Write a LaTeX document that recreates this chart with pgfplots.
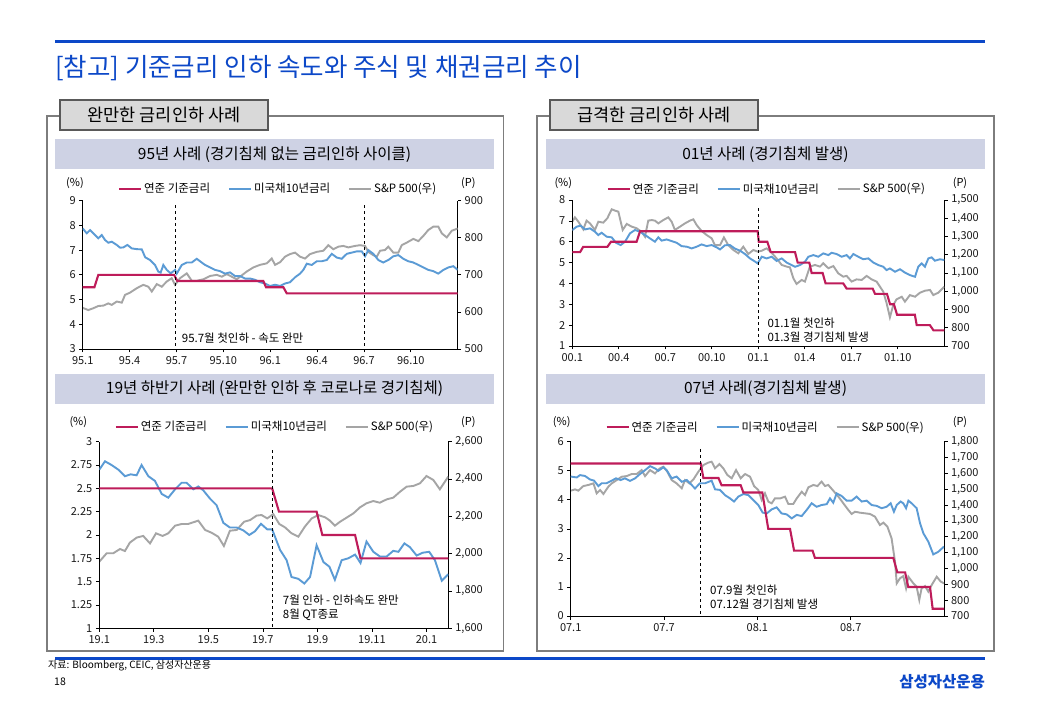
\documentclass[border=0pt]{standalone}
\usepackage{fontspec}
\setmainfont{Noto Sans CJK KR}
\usepackage{pgfplots}
\pgfplotsset{compat=1.18}
\definecolor{fed}{RGB}{190,28,90}
\definecolor{ust}{RGB}{91,155,213}
\definecolor{spx}{RGB}{165,165,165}
\definecolor{ttl}{RGB}{12,72,200}
\definecolor{barc}{RGB}{206,210,228}
\definecolor{frm}{RGB}{125,125,125}
\definecolor{tabc}{RGB}{217,217,217}
\newcommand{\fs}[1]{\fontsize{#1}{#1}\selectfont}
\pgfplotsset{
  base/.style={
    scale only axis, anchor=south west,
    axis line style={black, line width=0.7pt},
    tick style={black, line width=0.7pt},
    major tick length=3.5pt,
    tick align=outside,
    ticklabel style={font=\fs{11}, text=black!90},
    /pgf/number format/assume math mode=true,
    /pgf/number format/1000 sep={,},
  },
  lax/.style={base, axis y line*=left, axis x line*=bottom},
  rax/.style={base, axis y line*=right, axis x line=none},
  legax/.style={scale only axis, anchor=south west, hide axis, xmin=0, xmax=1, ymin=0, ymax=1,
    legend style={draw=none, fill=none, font=\fs{11.5}, legend columns=3,
      at={(#1)}, anchor=center, inner sep=0pt,
      /tikz/every even column/.append style={column sep=16pt}},
    legend cell align=left,
    legend image code/.code={\draw[##1] (0pt,0pt) -- (22pt,0pt);}},
  fedl/.style={fed, line width=2.1pt},
  ustl/.style={ust, line width=1.9pt},
  spxl/.style={spx, line width=1.9pt},
}
\newcommand{\legendset}{%
\addlegendimage{fedl}\addlegendentry{연준 기준금리}
\addlegendimage{ustl}\addlegendentry{미국채10년금리}
\addlegendimage{spxl}\addlegendentry{S\&P 500(우)}}
\begin{document}
\begin{tikzpicture}
\useasboundingbox (0pt,0pt) rectangle (1040pt,720pt);
\fill[white] (0pt,0pt) rectangle (1040pt,720pt);
% header
\draw[ttl, line width=3pt] (55pt,678pt) -- (985pt,678pt);
\node[anchor=west, text=ttl, font=\fs{25.5}, inner sep=0pt] at (55pt,652pt) {[참고] 기준금리 인하 속도와 주식 및 채권금리 추이};
% frames
\draw[frm, line width=1.8pt] (47pt,604pt) rectangle (503.5pt,69pt);
\draw[frm, line width=1.8pt] (537.3pt,604pt) rectangle (994pt,69pt);
\draw[fill=tabc, draw=black!65, line width=1.2pt] (60pt,620pt) rectangle (268pt,590pt);
\node[font=\fs{17.5}] at (164pt,605pt) {완만한 금리인하 사례};
\draw[fill=tabc, draw=black!65, line width=1.2pt] (550pt,620pt) rectangle (758pt,590pt);
\node[font=\fs{17.5}] at (654pt,605pt) {급격한 금리인하 사례};
% subtitle bars
\fill[barc] (55pt,580.7pt) rectangle (494pt,550.7pt);
\node[font=\fs{15.5}] at (274.5pt,565.7pt) {95년 사례 (경기침체 없는 금리인하 사이클)};
\fill[barc] (546pt,580.7pt) rectangle (985pt,550.7pt);
\node[font=\fs{15.5}] at (765.5pt,565.7pt) {01년 사례 (경기침체 발생)};
\fill[barc] (55pt,346pt) rectangle (494pt,316pt);
\node[font=\fs{15.5}] at (274.5pt,331pt) {19년 하반기 사례 (완만한 인하 후 코로나로 경기침체)};
\fill[barc] (546pt,346pt) rectangle (985pt,316pt);
\node[font=\fs{15.5}] at (765.5pt,331pt) {07년 사례(경기침체 발생)};

% ================= Chart 1 : 95 =================
\begin{axis}[rax, at={(82.7pt,371pt)}, width=375pt, height=148.3pt,
  xmin=0, xmax=24, ymin=500, ymax=900, ytick={500,600,700,800,900}]
\addplot[spxl] coordinates {(0,611)(0.36,605)(0.68,610)(1.00,616)(1.32,617)(1.64,623)(1.86,619)(2.18,628)(2.50,625)(2.71,646)(3.03,652)(3.46,664)(3.88,673)(4.20,668)(4.42,655)(4.74,675)(5.06,668)(5.38,682)(5.70,691)(5.91,673)(6.23,691)(6.66,704)(6.98,684)(7.30,684)(7.72,688)(8.15,697)(8.58,700)(8.90,695)(9.22,702)(9.54,695)(9.86,688)(10.07,695)(10.50,709)(10.92,720)(11.35,727)(11.78,731)(12.10,744)(12.31,727)(12.63,734)(12.95,749)(13.27,756)(13.59,760)(13.91,749)(14.23,744)(14.55,756)(14.98,762)(15.40,765)(15.72,780)(16.04,769)(16.36,776)(16.68,778)(17.00,774)(17.43,778)(17.75,780)(18.07,778)(18.28,762)(18.60,753)(18.82,749)(19.03,765)(19.35,767)(19.56,776)(19.88,760)(20.20,760)(20.42,780)(20.74,787)(21.16,797)(21.48,791)(21.80,805)(22.12,821)(22.44,830)(22.76,830)(22.98,812)(23.30,801)(23.62,819)(24.00,825)};
\end{axis}
\begin{axis}[lax, at={(82.7pt,371pt)}, width=375pt, height=148.3pt,
  xmin=0, xmax=24, ymin=3, ymax=9, ytick={3,4,...,9},
  xtick={0,3,...,21}, xticklabels={95.1,95.4,95.7,95.10,96.1,96.4,96.7,96.10}]
\addplot[ustl] coordinates {(0,7.88)(0.26,7.68)(0.47,7.81)(0.79,7.61)(1.00,7.48)(1.22,7.61)(1.43,7.41)(1.64,7.30)(1.86,7.34)(2.18,7.21)(2.39,7.10)(2.60,7.11)(2.86,7.21)(3.14,7.07)(3.46,7.04)(3.78,7.03)(4.00,6.71)(4.31,6.60)(4.63,6.40)(4.84,6.13)(4.99,6.09)(5.16,6.40)(5.38,6.20)(5.63,6.06)(5.91,6.20)(6.02,6.05)(6.34,6.40)(6.66,6.50)(6.98,6.50)(7.30,6.65)(7.51,6.55)(7.83,6.40)(8.15,6.30)(8.47,6.20)(8.79,6.15)(9.11,6.05)(9.43,6.10)(9.75,5.95)(10.07,5.95)(10.39,5.85)(10.71,5.85)(11.03,5.80)(11.35,5.70)(11.67,5.65)(11.99,5.55)(12.31,5.60)(12.63,5.55)(12.95,5.65)(13.27,5.70)(13.59,5.90)(13.91,6.05)(14.12,6.20)(14.34,6.45)(14.66,6.40)(14.98,6.55)(15.30,6.55)(15.62,6.60)(15.94,6.85)(16.26,6.70)(16.58,6.65)(16.90,6.85)(17.22,6.90)(17.54,6.95)(17.86,6.95)(18.07,6.75)(18.28,7.00)(18.60,6.85)(18.92,6.60)(19.24,6.50)(19.56,6.60)(19.88,6.75)(20.20,6.80)(20.52,6.65)(20.84,6.55)(21.16,6.50)(21.48,6.40)(21.80,6.30)(22.12,6.20)(22.44,6.15)(22.76,6.05)(23.08,6.20)(23.40,6.30)(23.72,6.35)(24.00,6.20)};
\addplot[fedl] coordinates {(0,5.5)(0.75,5.5)(1.0,6.0)(5.85,6.0)(6.05,5.75)(11.56,5.75)(11.73,5.5)(12.84,5.5)(13.06,5.25)(24,5.25)};
\draw[black, dashed, line width=0.7pt] (axis cs:5.93,8.82) -- (axis cs:5.93,3);
\draw[black, dashed, line width=0.7pt] (axis cs:18.05,8.82) -- (axis cs:18.05,3);
\end{axis}
\begin{axis}[legax={0.521,1.079}, at={(82.7pt,371pt)}, width=375pt, height=148.3pt]
\legendset
\end{axis}

% ================= Chart 2 : 01 =================
\begin{axis}[rax, at={(572.3pt,374pt)}, width=372pt, height=146pt,
  xmin=0, xmax=24, ymin=700, ymax=1500, ytick={700,800,...,1500}]
\addplot[spxl] coordinates {(0,1381)(0.17,1405)(0.39,1381)(0.71,1339)(0.92,1387)(1.14,1372)(1.46,1336)(1.68,1381)(2.00,1376)(2.26,1400)(2.54,1449)(2.75,1442)(2.97,1436)(3.25,1336)(3.51,1369)(3.83,1354)(4.15,1345)(4.47,1326)(4.69,1299)(4.90,1387)(5.12,1390)(5.33,1387)(5.55,1372)(5.87,1390)(6.19,1405)(6.41,1381)(6.62,1336)(6.95,1354)(7.27,1372)(7.59,1387)(7.81,1394)(8.02,1363)(8.34,1330)(8.67,1308)(8.99,1290)(9.20,1253)(9.53,1253)(9.78,1295)(10.06,1253)(10.39,1226)(10.71,1208)(11.03,1244)(11.35,1204)(11.68,1226)(11.96,1217)(12.22,1222)(12.54,1235)(12.86,1211)(13.18,1180)(13.51,1144)(13.83,1135)(14.04,1131)(14.26,1071)(14.47,1040)(14.80,1062)(15.01,1053)(15.33,1135)(15.66,1144)(15.98,1135)(16.19,1153)(16.52,1126)(16.84,1138)(17.16,1098)(17.48,1080)(17.70,1084)(18.02,1053)(18.34,1065)(18.67,1062)(18.99,1084)(19.31,1065)(19.63,1053)(19.85,1025)(20.06,998)(20.28,934)(20.49,857)(20.71,925)(20.92,956)(21.25,970)(21.46,943)(21.78,979)(22.11,970)(22.43,992)(22.75,1003)(23.08,1007)(23.29,979)(23.61,992)(24.00,1025)};
\end{axis}
\begin{axis}[lax, at={(572.3pt,374pt)}, width=372pt, height=146pt,
  xmin=0, xmax=24, ymin=1, ymax=8, ytick={1,2,...,8},
  xtick={0,3,...,21}, xticklabels={00.1,00.4,00.7,00.10,01.1,01.4,01.7,01.10}]
\addplot[ustl] coordinates {(0,6.56)(0.28,6.72)(0.54,6.77)(0.82,6.59)(1.14,6.64)(1.46,6.48)(1.68,6.32)(1.89,6.43)(2.22,6.24)(2.54,6.21)(2.82,5.95)(3.12,5.84)(3.40,6.00)(3.72,6.40)(4.04,6.56)(4.37,6.48)(4.69,6.32)(5.01,6.16)(5.33,6.00)(5.55,6.21)(5.76,6.05)(6.09,6.11)(6.41,6.03)(6.73,5.95)(7.05,5.79)(7.38,5.76)(7.70,5.68)(8.02,5.76)(8.34,5.87)(8.67,5.79)(8.99,5.84)(9.31,5.73)(9.53,5.63)(9.85,5.83)(10.17,5.84)(10.49,5.67)(10.82,5.57)(11.14,5.41)(11.46,5.20)(11.72,5.08)(11.96,4.96)(12.22,5.28)(12.54,5.20)(12.86,5.28)(13.18,5.08)(13.51,5.20)(13.83,5.00)(14.15,4.88)(14.37,4.80)(14.69,4.88)(15.01,5.04)(15.23,5.28)(15.55,5.36)(15.87,5.28)(16.19,5.44)(16.52,5.36)(16.73,5.47)(17.05,5.41)(17.38,5.28)(17.70,5.36)(17.91,5.20)(18.13,5.41)(18.45,5.28)(18.77,5.16)(19.10,5.20)(19.42,5.00)(19.74,4.88)(20.06,4.80)(20.28,4.64)(20.49,4.72)(20.82,4.56)(21.14,4.68)(21.46,4.52)(21.78,4.40)(22.11,4.32)(22.32,4.80)(22.54,4.96)(22.75,4.80)(22.97,5.20)(23.18,5.25)(23.40,5.09)(23.72,5.16)(24.00,5.12)};
\addplot[fedl] coordinates {(0,5.5)(0.5,5.5)(0.7,5.75)(2.26,5.75)(2.5,6.0)(4.15,6.0)(4.37,6.5)(11.96,6.5)(12.03,6.0)(12.58,6.0)(12.8,5.5)(14.37,5.5)(14.54,5.0)(15.29,5.0)(15.44,4.5)(16.15,4.5)(16.34,4.0)(17.48,4.0)(17.7,3.75)(19.38,3.75)(19.53,3.5)(20.3,3.5)(20.5,3.0)(20.75,3.0)(20.95,2.5)(22.1,2.5)(22.22,2.0)(23.07,2.0)(23.3,1.75)(24,1.75)};
\draw[black, dashed, line width=0.7pt] (axis cs:12.02,7.6) -- (axis cs:12.02,1);
\end{axis}
\begin{axis}[legax={0.523,1.075}, at={(572.3pt,374pt)}, width=372pt, height=146pt]
\legendset
\end{axis}

% ================= Chart 3 : 19 =================
\begin{axis}[rax, at={(99.3pt,91.7pt)}, width=349pt, height=186.6pt,
  xmin=0, xmax=12.8, ymin=1600, ymax=2600, ytick={1600,1800,...,2600}]
\addplot[spxl] coordinates {(0,1957)(0.27,2002)(0.51,2002)(0.76,2025)(0.94,2014)(1.12,2059)(1.37,2086)(1.61,2095)(1.86,2055)(2.08,2109)(2.32,2095)(2.53,2109)(2.78,2150)(3.02,2159)(3.26,2159)(3.51,2171)(3.63,2177)(3.88,2127)(4.12,2112)(4.36,2091)(4.57,2041)(4.79,2123)(5.04,2127)(5.31,2171)(5.53,2180)(5.77,2204)(5.95,2207)(6.16,2189)(6.38,2212)(6.60,2159)(6.81,2141)(7.05,2109)(7.30,2091)(7.54,2145)(7.79,2189)(8.03,2207)(8.28,2195)(8.46,2177)(8.64,2150)(8.83,2171)(9.07,2193)(9.32,2216)(9.56,2248)(9.80,2270)(10.05,2282)(10.29,2273)(10.54,2291)(10.78,2300)(11.03,2332)(11.27,2359)(11.52,2363)(11.76,2377)(12.00,2416)(12.25,2395)(12.49,2345)(12.80,2413)};
\end{axis}
\begin{axis}[lax, at={(99.3pt,91.7pt)}, width=349pt, height=186.6pt,
  xmin=0, xmax=12.8, ymin=1, ymax=3, ytick={1,1.25,...,3},
  xtick={0,2,...,12}, xticklabels={19.1,19.3,19.5,19.7,19.9,19.11,20.1}]
\addplot[ustl] coordinates {(0,2.70)(0.21,2.79)(0.45,2.75)(0.70,2.70)(0.94,2.63)(1.15,2.65)(1.37,2.64)(1.55,2.75)(1.80,2.63)(2.04,2.58)(2.29,2.44)(2.53,2.40)(2.78,2.49)(3.02,2.56)(3.20,2.56)(3.45,2.49)(3.63,2.52)(3.81,2.48)(4.06,2.39)(4.30,2.32)(4.55,2.13)(4.79,2.08)(5.04,2.08)(5.28,2.05)(5.50,2.00)(5.71,2.04)(5.93,2.12)(6.16,2.06)(6.34,2.06)(6.63,1.84)(6.87,1.73)(7.05,1.55)(7.30,1.53)(7.52,1.48)(7.73,1.55)(7.97,1.89)(8.22,1.71)(8.44,1.66)(8.64,1.52)(8.89,1.73)(9.13,1.75)(9.38,1.79)(9.58,1.70)(9.80,1.93)(10.05,1.82)(10.29,1.77)(10.54,1.77)(10.78,1.83)(10.97,1.82)(11.19,1.91)(11.39,1.87)(11.64,1.78)(11.86,1.81)(12.10,1.82)(12.31,1.73)(12.56,1.51)(12.80,1.58)};
\addplot[fedl] coordinates {(0,2.5)(6.34,2.5)(6.59,2.25)(7.97,2.25)(8.18,2.0)(9.38,2.0)(9.58,1.75)(12.8,1.75)};
\draw[black, dashed, line width=0.7pt] (axis cs:6.34,2.91) -- (axis cs:6.34,1);
\end{axis}
\begin{axis}[legax={0.503,1.080}, at={(99.3pt,91.7pt)}, width=349pt, height=186.6pt]
\legendset
\end{axis}

% ================= Chart 4 : 07 =================
\begin{axis}[rax, at={(570.7pt,104pt)}, width=373.3pt, height=174.3pt,
  xmin=0, xmax=24, ymin=700, ymax=1800, ytick={700,800,...,1800}]
\addplot[spxl] coordinates {(0,1491)(0.28,1499)(0.49,1491)(0.81,1520)(1.14,1527)(1.46,1537)(1.67,1474)(1.89,1495)(2.10,1470)(2.42,1516)(2.64,1537)(2.96,1558)(3.28,1579)(3.60,1583)(3.92,1596)(4.24,1596)(4.56,1621)(4.78,1583)(5.10,1621)(5.42,1600)(5.74,1632)(5.96,1642)(6.21,1611)(6.49,1558)(6.81,1537)(7.14,1506)(7.35,1558)(7.63,1537)(7.89,1562)(8.21,1611)(8.53,1653)(8.85,1668)(9.06,1674)(9.28,1632)(9.56,1659)(9.81,1632)(10.07,1590)(10.35,1569)(10.63,1621)(10.93,1569)(11.21,1596)(11.53,1579)(11.79,1520)(12.06,1495)(12.28,1432)(12.49,1474)(12.71,1421)(12.92,1411)(13.13,1442)(13.46,1442)(13.78,1453)(13.99,1407)(14.31,1407)(14.53,1442)(14.85,1484)(15.06,1463)(15.28,1512)(15.60,1527)(15.86,1520)(16.13,1548)(16.35,1520)(16.56,1527)(16.88,1491)(17.21,1453)(17.53,1411)(17.85,1369)(18.06,1344)(18.28,1358)(18.60,1352)(18.92,1348)(19.24,1344)(19.56,1327)(19.88,1274)(20.10,1289)(20.36,1264)(20.63,1190)(20.85,1043)(20.96,906)(21.17,938)(21.38,952)(21.56,875)(21.71,948)(22.03,906)(22.24,885)(22.41,801)(22.56,875)(22.78,889)(22.99,854)(23.21,896)(23.53,948)(23.79,917)(24.00,906)};
\end{axis}
\begin{axis}[lax, at={(570.7pt,104pt)}, width=373.3pt, height=174.3pt,
  xmin=0, xmax=24, ymin=0, ymax=6, ytick={0,1,...,6},
  xtick={0,6,12,18}, xticklabels={07.1,07.7,08.1,08.7}]
\addplot[ustl] coordinates {(0,4.80)(0.39,4.77)(0.60,4.85)(0.92,4.82)(1.24,4.70)(1.50,4.66)(1.78,4.47)(1.99,4.57)(2.31,4.57)(2.64,4.66)(2.91,4.74)(3.21,4.68)(3.49,4.74)(3.81,4.65)(4.14,4.74)(4.46,4.89)(4.78,5.02)(5.10,5.16)(5.42,5.08)(5.64,5.00)(5.96,5.12)(6.17,5.02)(6.49,4.74)(6.81,4.80)(7.14,4.62)(7.46,4.68)(7.67,4.57)(7.99,4.39)(8.31,4.57)(8.64,4.57)(9.06,4.66)(9.28,4.36)(9.60,4.34)(9.92,4.16)(10.24,4.05)(10.50,3.94)(10.78,4.11)(11.10,4.20)(11.42,4.16)(11.74,3.99)(12.06,3.82)(12.34,3.56)(12.60,3.53)(12.92,3.67)(13.24,3.74)(13.56,3.53)(13.88,3.50)(14.21,3.36)(14.53,3.48)(14.85,3.44)(15.17,3.65)(15.49,3.88)(15.81,3.76)(16.13,3.82)(16.46,3.85)(16.67,4.05)(16.88,3.90)(17.10,4.22)(17.42,4.13)(17.74,3.97)(18.06,3.97)(18.38,4.11)(18.71,3.94)(19.03,3.97)(19.35,3.82)(19.67,3.79)(19.99,3.71)(20.31,3.76)(20.57,3.88)(20.78,3.59)(20.96,3.82)(21.21,3.94)(21.38,3.88)(21.56,3.71)(21.71,3.97)(21.92,3.88)(22.24,3.71)(22.46,3.19)(22.67,2.85)(22.99,2.56)(23.31,2.12)(23.63,2.21)(24.00,2.39)};
\addplot[fedl] coordinates {(0,5.25)(8.36,5.25)(8.53,4.75)(9.5,4.75)(9.7,4.5)(10.93,4.5)(11.1,4.25)(12.32,4.25)(12.7,3.0)(14.1,3.0)(14.36,2.25)(15.55,2.25)(15.7,2.0)(20.74,2.0)(21.0,1.5)(21.5,1.5)(21.7,1.0)(23.1,1.0)(23.27,0.25)(24,0.25)};
\draw[black, dashed, line width=0.7pt] (axis cs:8.36,5.75) -- (axis cs:8.36,0);
\end{axis}
\begin{axis}[legax={0.522,1.083}, at={(570.7pt,104pt)}, width=373.3pt, height=174.3pt]
\legendset
\end{axis}

% unit labels
\begin{scope}[every node/.style={font=\fs{11}, inner sep=0pt}]
\node at (75pt,537pt) {(\%)};
\node at (468.3pt,537pt) {(P)};
\node at (563.3pt,537pt) {(\%)};
\node at (960pt,537pt) {(P)};
\node at (78.3pt,298.3pt) {(\%)};
\node at (468.3pt,298.3pt) {(P)};
\node at (561.7pt,298.3pt) {(\%)};
\node at (960pt,298.3pt) {(P)};
\end{scope}
% annotations
\begin{scope}[every node/.style={font=\fs{11.5}, inner sep=0pt, anchor=west}]
\node at (181.7pt,381.7pt) {95.7월 첫인하 - 속도 완만};
\node at (767.3pt,397pt) {01.1월 첫인하};
\node at (767.3pt,383pt) {01.3월 경기침체 발생};
\node at (282.7pt,120pt) {7월 인하 - 인하속도 완만};
\node at (282.7pt,105pt) {8월 QT종료};
\node at (710pt,130pt) {07.9월 첫인하};
\node at (710pt,115.7pt) {07.12월 경기침체 발생};
\end{scope}
% footer
\draw[ttl, line width=3pt] (55pt,62pt) -- (985pt,62pt);
\node[anchor=west, font=\fs{10}, inner sep=0pt] at (48pt,54pt) {자료: Bloomberg, CEIC, 삼성자산운용};
\node[anchor=west, font=\fs{10.5}, inner sep=0pt] at (54pt,38pt) {18};
\node[anchor=east, font=\fs{15.5}\bfseries, text=ttl, inner sep=0pt] at (985pt,38pt) {삼성자산운용};
\end{tikzpicture}
\end{document}
